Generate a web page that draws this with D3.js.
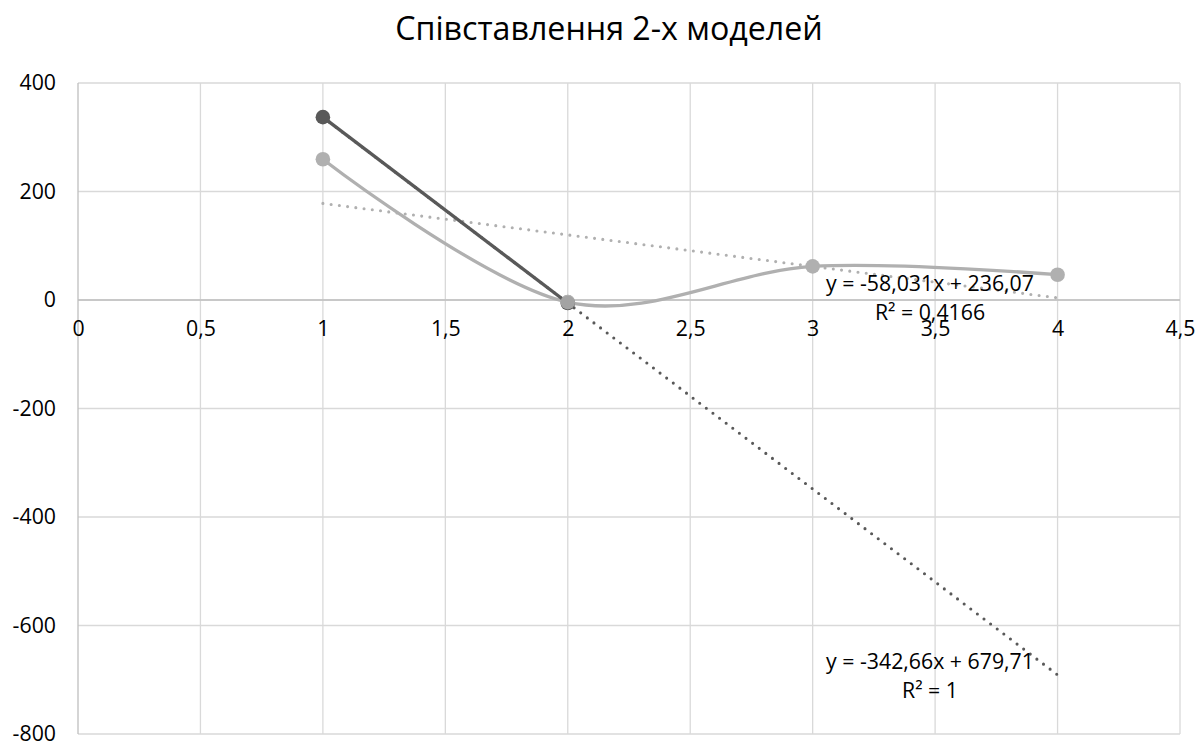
<!DOCTYPE html>
<html>
<head>
<meta charset="utf-8">
<script src="https://cdn.jsdelivr.net/npm/d3@7"></script>
<style>
  html, body { margin: 0; padding: 0; background: #fff; }
  svg { display: block; font-family: "Open Sans", "Noto Sans", sans-serif; }
</style>
</head>
<body>
<svg id="chart" width="1199" height="744"></svg>
<script>
// Chart data
const title = "Співставлення 2-х моделей";
const xTicks = [0, 0.5, 1, 1.5, 2, 2.5, 3, 3.5, 4, 4.5];
const yTicks = [400, 200, 0, -200, -400, -600, -800];

// Model A (dark, straight segments)
const modelAX = [1, 2];
const modelAY = [337.05, -5.61];
// Model B (light, smoothed line)
const modelBX = [1, 2, 3, 4];
const modelBY = [259.4, -4, 62, 46.6];

// Linear trend lines: slope, intercept, R², drawn over x range
const trendA = { slope: -342.66, intercept: 679.71, r2: "1", from: 1, to: 4 };
const trendB = { slope: -58.031, intercept: 236.07, r2: "0,4166", from: 1, to: 4 };

const fmt = v => String(v).replace(".", ",");

const svg = d3.select("#chart");
const plot = { left: 78, right: 1180, top: 83, bottom: 734 };

const x = d3.scaleLinear().domain([0, 4.5]).range([plot.left, plot.right]);
const y = d3.scaleLinear().domain([-800, 400]).range([plot.bottom, plot.top]);

const darkColor = "#595959";
const lightColor = "#b0b0b0";
const labelSize = 21.3;

// Title
svg.append("text")
  .attr("x", 609).attr("y", 40)
  .attr("text-anchor", "middle")
  .attr("font-size", 32.2)
  .attr("fill", "#000")
  .text(title);

// Gridlines
const grid = svg.append("g");
grid.selectAll("line.h").data(yTicks).join("line")
  .attr("x1", plot.left).attr("x2", plot.right)
  .attr("y1", d => y(d)).attr("y2", d => y(d))
  .attr("stroke", "#d9d9d9").attr("stroke-width", 1.3);
grid.selectAll("line.v").data(xTicks).join("line")
  .attr("x1", d => x(d)).attr("x2", d => x(d))
  .attr("y1", plot.top).attr("y2", plot.bottom)
  .attr("stroke", d => d === 0 ? "#bfbfbf" : "#d9d9d9").attr("stroke-width", 1.3);

// Horizontal axis along y = 0
svg.append("line")
  .attr("x1", plot.left).attr("x2", plot.right)
  .attr("y1", y(0)).attr("y2", y(0))
  .attr("stroke", "#bfbfbf").attr("stroke-width", 1.3);

// Y-axis labels
const yAxis = d3.axisLeft(y).tickValues(yTicks).tickSize(0).tickPadding(0).tickFormat(d => fmt(d));
svg.append("g")
  .attr("transform", `translate(${plot.left - 22},0)`)
  .call(yAxis)
  .call(g => g.select(".domain").remove())
  .call(g => g.selectAll("text").attr("font-size", labelSize).attr("fill", "#000")
    .attr("font-family", "Open Sans, Noto Sans, sans-serif"));

// X-axis labels, just below the zero line
const xAxis = d3.axisBottom(x).tickValues(xTicks).tickSize(0).tickPadding(0).tickFormat(d => fmt(d));
svg.append("g")
  .attr("transform", `translate(0,${y(0) + 21})`)
  .call(xAxis)
  .call(g => g.select(".domain").remove())
  .call(g => g.selectAll("text").attr("font-size", labelSize).attr("fill", "#000")
    .attr("font-family", "Open Sans, Noto Sans, sans-serif"));

// Trend lines (round dots)
function drawTrend(t, color) {
  const pts = [t.from, t.to].map(v => [v, t.slope * v + t.intercept]);
  svg.append("path")
    .attr("d", d3.line().x(d => x(d[0])).y(d => y(d[1]))(pts))
    .attr("fill", "none")
    .attr("stroke", color)
    .attr("stroke-width", 3.1)
    .attr("stroke-linecap", "round")
    .attr("stroke-dasharray", "0 8.3");
}
drawTrend(trendB, lightColor);
drawTrend(trendA, darkColor);

// Model B: smoothed line with markers
const bData = modelBX.map((v, i) => [v, modelBY[i]]);
svg.append("path")
  .attr("d", d3.line().x(d => x(d[0])).y(d => y(d[1])).curve(d3.curveCardinal.tension(0))(bData))
  .attr("fill", "none").attr("stroke", lightColor).attr("stroke-width", 3.3)
  .attr("stroke-linejoin", "round");
svg.append("g").selectAll("circle").data(bData).join("circle")
  .attr("cx", d => x(d[0])).attr("cy", d => y(d[1])).attr("r", 7.3)
  .attr("fill", lightColor);

// Model A: straight line with markers
const aData = modelAX.map((v, i) => [v, modelAY[i]]);
svg.append("path")
  .attr("d", d3.line().x(d => x(d[0])).y(d => y(d[1]))(aData))
  .attr("fill", "none").attr("stroke", darkColor).attr("stroke-width", 3.3);
svg.append("g").selectAll("circle").data(aData).join("circle")
  .attr("cx", d => x(d[0])).attr("cy", d => y(d[1])).attr("r", 7.3)
  .attr("fill", darkColor);

// Model B marker at x=2 drawn over model A's
svg.append("circle")
  .attr("cx", x(modelBX[1])).attr("cy", y(modelBY[1])).attr("r", 7.3)
  .attr("fill", lightColor).attr("opacity", 0.85);

// Trend line equations
function trendLabel(t, cx, baseline) {
  const eq = `y = ${fmt(t.slope)}x + ${fmt(t.intercept)}`;
  const g = svg.append("g").attr("font-size", labelSize).attr("fill", "#000").attr("text-anchor", "middle");
  g.append("text").attr("x", cx).attr("y", baseline).text(eq);
  g.append("text").attr("x", cx).attr("y", baseline + 28.5).text("R² = " + t.r2);
}
trendLabel(trendB, 930, 291);
trendLabel(trendA, 930, 669);
</script>
</body>
</html>
